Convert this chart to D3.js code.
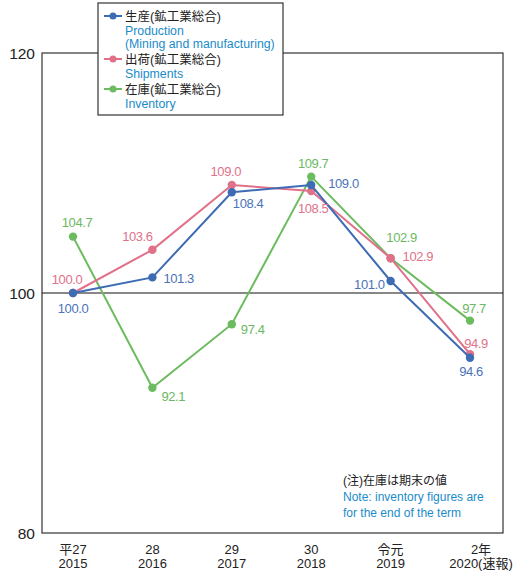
<!DOCTYPE html>
<html>
<head>
<meta charset="utf-8">
<script src="https://cdn.jsdelivr.net/npm/d3@7.9.0/dist/d3.min.js"></script>
<style>
  body { margin: 0; background: #fff; }
  svg { font-family: "Liberation Sans", "Noto Sans CJK JP", sans-serif; }
  .val { letter-spacing: -0.4px; }
</style>
</head>
<body>
<svg id="chart" width="520" height="573"></svg>
<script>
// Data
const eraLabels = ['平27', '28', '29', '30', '令元', '2年'];
const yearLabels = ['2015', '2016', '2017', '2018', '2019', '2020(速報)'];
const production = [100.0, 101.3, 108.4, 109.0, 101.0, 94.6];
const shipments = [100.0, 103.6, 109.0, 108.5, 102.9, 94.9];
const inventory = [104.7, 92.1, 97.4, 109.7, 102.9, 97.7];
const yTicks = [80, 100, 120];

// label offsets [dx, dy, anchor] per point
const prodLabelPos = [[0, 20, 'middle'], [11, 6, 'start'], [1, 16, 'start'], [17, 3, 'start'], [-6, 8, 'end'], [1, 18, 'middle']];
const shipLabelPos = [[-6, -9, 'middle'], [-15, -9, 'middle'], [-6, -9, 'middle'], [2, 22, 'middle'], [12, 3, 'start'], [6, -6, 'middle']];
const invLabelPos = [[4, -10, 'middle'], [9, 13, 'start'], [9, 10, 'start'], [2, -9, 'middle'], [11, -16, 'middle'], [4, -8, 'middle']];

const series = [
  { name: '生産(鉱工業総合)', en: ['Production', '(Mining and manufacturing)'], values: production, color: '#3d6cb5', text: '#4a73b9', pos: prodLabelPos },
  { name: '出荷(鉱工業総合)', en: ['Shipments'], values: shipments, color: '#e07189', text: '#e07189', pos: shipLabelPos },
  { name: '在庫(鉱工業総合)', en: ['Inventory'], values: inventory, color: '#6cbb5f', text: '#6cb862', pos: invLabelPos }
];

const svg = d3.select('#chart');
const plotLeft = 42, plotRight = 503, plotTop = 53, plotBottom = 533;

const x = d3.scalePoint().domain(d3.range(6)).range([73, 470]);
const y = d3.scaleLinear().domain([80, 120]).range([plotBottom, plotTop]);

// frame
svg.append('rect')
  .attr('x', plotLeft).attr('y', plotTop)
  .attr('width', plotRight - plotLeft).attr('height', plotBottom - plotTop)
  .attr('fill', 'none').attr('stroke', '#333').attr('stroke-width', 1.2);

// 100 baseline
svg.append('line')
  .attr('x1', plotLeft).attr('x2', plotRight)
  .attr('y1', y(100)).attr('y2', y(100))
  .attr('stroke', '#111').attr('stroke-width', 1.2);

// y tick labels
svg.selectAll('.ytick').data(yTicks).enter().append('text')
  .attr('x', 35).attr('y', d => y(d) + 6)
  .attr('text-anchor', 'end').attr('font-size', 15.5).attr('fill', '#222')
  .text(d => d);

// x labels
eraLabels.forEach((d, i) => {
  const cx = i === 5 ? x(i) + 11 : x(i);
  svg.append('text').attr('x', cx).attr('y', 554)
    .attr('text-anchor', 'middle').attr('font-size', 13).attr('fill', '#222').text(d);
  svg.append('text').attr('x', cx).attr('y', 568)
    .attr('text-anchor', 'middle').attr('font-size', 13).attr('fill', '#222').text(yearLabels[i]);
});

const line = d3.line().x((d, i) => x(i)).y(d => y(d));

// draw inventory first, then shipments, then production
[series[2], series[1], series[0]].forEach(s => {
  svg.append('path').datum(s.values)
    .attr('d', line).attr('fill', 'none')
    .attr('stroke', s.color).attr('stroke-width', 2);
  svg.selectAll(null).data(s.values).enter().append('circle')
    .attr('cx', (d, i) => x(i)).attr('cy', d => y(d)).attr('r', 4.2)
    .attr('fill', s.color);
});

series.forEach(s => {
  svg.selectAll(null).data(s.values).enter().append('text')
    .attr('class', 'val')
    .attr('x', (d, i) => x(i) + s.pos[i][0])
    .attr('y', (d, i) => y(d) + s.pos[i][1])
    .attr('text-anchor', (d, i) => s.pos[i][2])
    .attr('font-size', 13).attr('fill', s.text)
    .text(d => d.toFixed(1));
});

// legend
const lg = svg.append('g');
lg.append('rect').attr('x', 98).attr('y', 3).attr('width', 185).attr('height', 112)
  .attr('fill', '#fff').attr('stroke', '#333').attr('stroke-width', 1.2);
let ly = 16;
series.forEach(s => {
  lg.append('line').attr('x1', 104).attr('x2', 122).attr('y1', ly).attr('y2', ly)
    .attr('stroke', s.color).attr('stroke-width', 2);
  lg.append('circle').attr('cx', 113).attr('cy', ly).attr('r', 3.5).attr('fill', s.color);
  lg.append('text').attr('x', 125).attr('y', ly + 4.5).attr('font-size', 12.5).attr('fill', '#222').text(s.name);
  ly += 14;
  s.en.forEach(t => {
    lg.append('text').attr('x', 125).attr('y', ly + 5).attr('font-size', 12.3).attr('fill', '#1a8bc9').text(t);
    ly += 13;
  });
  ly += 3;
});

// note
svg.append('text').attr('x', 343).attr('y', 485).attr('font-size', 12).attr('fill', '#222').text('(注)在庫は期末の値');
svg.append('text').attr('x', 343).attr('y', 501).attr('font-size', 12).attr('fill', '#1a8bc9').text('Note: inventory figures are');
svg.append('text').attr('x', 343).attr('y', 517).attr('font-size', 12).attr('fill', '#1a8bc9').text('for the end of the term');
</script>
</body>
</html>
